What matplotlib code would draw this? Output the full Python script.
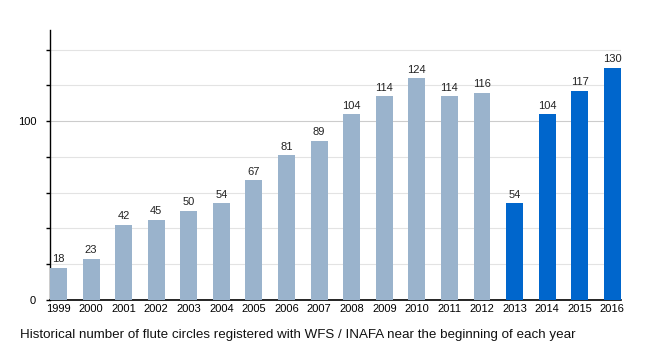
import numpy as np
import matplotlib
matplotlib.use("Agg")
import matplotlib.pyplot as plt
from matplotlib import font_manager as fm
from matplotlib.ticker import MultipleLocator, FixedLocator

# pick the regular (not narrow) Liberation Sans file
reg = [f.fname for f in fm.fontManager.ttflist
       if f.name == "Liberation Sans" and "Narrow" not in f.fname and f.weight in (400, "normal") and f.style == "normal"]
if reg:
    fam = fm.FontProperties(fname=reg[0]).get_name()
else:
    fam = "DejaVu Sans"
plt.rcParams['font.family'] = [fam, 'DejaVu Sans']

# Data
years = [str(y) for y in range(1999, 2017)]
circles = [18, 23, 42, 45, 50, 54, 67, 81, 89, 104, 114, 124, 114, 116, 54, 104, 117, 130]
light_blue = "#9ab3cc"
dark_blue = "#0066cc"
colors = [light_blue] * 14 + [dark_blue] * 4

fig = plt.figure(figsize=(6.5, 3.5), dpi=100)
ax = fig.add_axes([0.077, 0.143, 0.878, 0.771])

x = np.arange(len(years))
bars = ax.bar(x, circles, width=0.52, color=colors, zorder=3)

for xi, v in zip(x, circles):
    ax.text(xi, v + 2, str(v), ha="center", va="bottom", fontsize=8, color="#222222")

ax.set_xlim(-0.26, len(years) - 1 + 0.26)
ax.set_ylim(0, 151)
ax.set_xticks(x)
ax.set_xticklabels(years, fontsize=8)
ax.yaxis.set_major_locator(FixedLocator([0, 100]))
ax.yaxis.set_minor_locator(MultipleLocator(20))
ax.tick_params(axis="y", which="major", labelsize=8, length=3, width=1, pad=7)
ax.tick_params(axis="y", which="minor", length=3, width=1)
ax.tick_params(axis="x", length=0, pad=3)

for g in range(20, 151, 20):
    ax.axhline(g, color="#cccccc" if g == 100 else "#e3e3e3", linewidth=0.8, zorder=1)

ax.spines["top"].set_visible(False)
ax.spines["right"].set_visible(False)
ax.spines["left"].set_linewidth(1)
ax.spines["bottom"].set_linewidth(1.2)

fig.text(20 / 650, 1 - 335 / 350, "Historical number of flute circles registered with WFS / INAFA near the beginning of each year",
         fontsize=9.6, ha="left", va="center", color="#111111")

fig.savefig("out.png", dpi=100)
